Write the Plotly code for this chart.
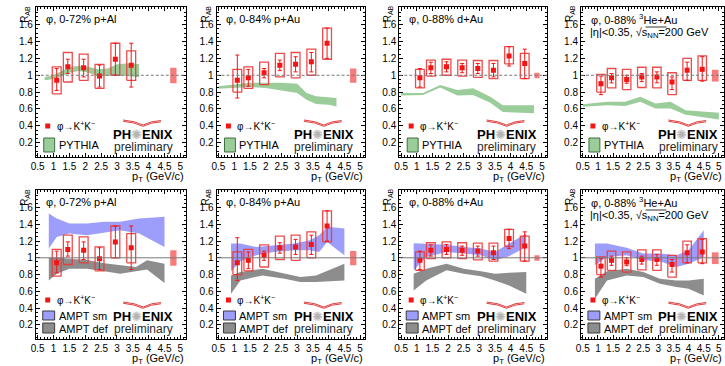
import plotly.graph_objects as go

# ---------------- data ----------------
pt = [1.1, 1.45, 1.95, 2.45, 2.95, 3.45, 3.95, 4.45]

pAl_y       = [0.94, 1.10, 1.09, 0.99, 1.19, 1.12]
pAl_stat_hi = [1.08, 1.19, 1.19, 1.12, 1.38, 1.38]
pAl_stat_lo = [0.82, 1.02, 0.98, 0.86, 1.00, 0.86]
pAl_sys_hi  = [1.10, 1.27, 1.25, 1.13, 1.38, 1.29]
pAl_sys_lo  = [0.78, 0.92, 0.94, 0.845, 1.00, 0.94]

pAu_y       = [0.94, 0.97, 1.03, 1.12, 1.13, 1.16, 1.38]
pAu_stat_hi = [1.24, 1.07, 1.08, 1.18, 1.22, 1.27, 1.56]
pAu_stat_lo = [0.73, 0.87, 0.97, 1.055, 1.04, 1.04, 1.20]
pAu_sys_hi  = [1.07, 1.10, 1.155, 1.26, 1.27, 1.31, 1.56]
pAu_sys_lo  = [0.80, 0.845, 0.89, 0.98, 0.97, 1.00, 1.19]

dAu_y       = [0.97, 1.09, 1.10, 1.09, 1.08, 1.06, 1.23, 1.14]
dAu_stat_hi = [1.08, 1.155, 1.16, 1.14, 1.14, 1.14, 1.34, 1.31]
dAu_stat_lo = [0.86, 1.02, 1.04, 1.03, 1.02, 0.98, 1.11, 0.96]
dAu_sys_hi  = [1.07, 1.18, 1.19, 1.18, 1.175, 1.175, 1.34, 1.26]
dAu_sys_lo  = [0.85, 0.99, 1.00, 0.99, 0.975, 0.96, 1.135, 0.96]

HeAu_y       = [0.90, 0.97, 0.95, 0.98, 0.98, 0.92, 1.06, 1.07]
HeAu_stat_hi = [0.99, 1.02, 1.00, 1.02, 1.04, 0.98, 1.155, 1.22]
HeAu_stat_lo = [0.77, 0.91, 0.905, 0.925, 0.91, 0.83, 0.94, 0.93]
HeAu_sys_hi  = [1.01, 1.08, 1.07, 1.095, 1.095, 1.03, 1.20, 1.23]
HeAu_sys_lo  = [0.80, 0.85, 0.83, 0.855, 0.85, 0.77, 0.94, 0.94]

# global normalisation boxes: x centre, half width, low, high
glob_pAl  = [4.78, 0.10, 0.905, 1.09]
glob_pAu  = [4.78, 0.10, 0.91, 1.08]
glob_dAu  = [4.84, 0.08, 0.965, 1.03]
glob_HeAu = [4.88, 0.11, 0.925, 1.065]

# PYTHIA bands
pyth_pAl_x  = [0.72, 0.9, 1.2, 1.5, 1.8, 2.1, 2.4, 2.7, 3.0, 3.3, 3.7]
pyth_pAl_hi = [0.98, 0.99, 1.04, 1.10, 1.11, 1.10, 1.07, 1.08, 1.13, 1.14, 1.135]
pyth_pAl_lo = [0.94, 0.95, 0.98, 1.03, 1.05, 1.03, 0.99, 0.99, 1.00, 0.99, 0.975]

pyth_pAu_x  = [0.5, 1.0, 1.5, 2.0, 2.5, 3.0, 3.3, 3.6, 4.0, 4.25]
pyth_pAu_hi = [0.87, 0.89, 0.91, 0.91, 0.91, 0.90, 0.79, 0.75, 0.74, 0.73]
pyth_pAu_lo = [0.84, 0.85, 0.86, 0.85, 0.82, 0.79, 0.71, 0.66, 0.65, 0.63]

pyth_dAu_x  = [0.5, 1.2, 1.75, 2.3, 2.8, 3.35, 3.75, 4.75]
pyth_dAu_hi = [0.79, 0.79, 0.885, 0.825, 0.845, 0.745, 0.645, 0.645]
pyth_dAu_lo = [0.76, 0.765, 0.855, 0.76, 0.765, 0.675, 0.565, 0.55]

pyth_HeAu_x  = [0.5, 1.3, 1.9, 2.4, 2.9, 3.4, 3.9, 5.0]
pyth_HeAu_hi = [0.655, 0.685, 0.685, 0.745, 0.665, 0.685, 0.585, 0.555]
pyth_HeAu_lo = [0.625, 0.645, 0.635, 0.685, 0.605, 0.605, 0.53, 0.475]

# AMPT string melting bands
sm_pAl_x  = [0.85, 1.1, 1.5, 2.05, 2.6, 3.1, 3.7, 4.5]
sm_pAl_hi = [1.53, 1.47, 1.41, 1.41, 1.43, 1.43, 1.47, 1.49]
sm_pAl_lo = [1.11, 1.25, 1.29, 1.27, 1.30, 1.33, 1.29, 1.13]

sm_pAu_x  = [0.9, 1.2, 1.7, 2.25, 2.9, 3.4, 3.7, 3.95, 4.5]
sm_pAu_hi = [1.17, 1.17, 1.13, 1.15, 1.17, 1.21, 1.27, 1.37, 1.35]
sm_pAu_lo = [0.84, 0.96, 1.03, 1.07, 1.09, 1.09, 1.07, 1.19, 1.03]

sm_dAu_x  = [0.9, 1.3, 1.95, 2.5, 3.05, 3.5, 3.95, 4.5]
sm_dAu_hi = [1.175, 1.17, 1.155, 1.13, 1.11, 1.07, 1.17, 1.29]
sm_dAu_lo = [0.85, 1.01, 1.07, 1.05, 1.03, 0.97, 1.02, 1.13]

sm_HeAu_x  = [0.9, 1.3, 1.95, 2.5, 3.05, 3.6, 4.0, 4.5]
sm_HeAu_hi = [1.17, 1.17, 1.12, 1.05, 1.05, 1.03, 1.09, 1.33]
sm_HeAu_lo = [0.91, 1.01, 1.03, 0.97, 0.96, 0.89, 0.93, 1.01]

# AMPT default bands
def_pAl_x  = [0.85, 1.1, 1.5, 2.05, 2.6, 3.1, 3.6, 3.95, 4.5]
def_pAl_hi = [1.00, 1.00, 0.99, 0.975, 0.935, 0.91, 0.89, 0.97, 0.93]
def_pAl_lo = [0.73, 0.81, 0.87, 0.87, 0.84, 0.81, 0.84, 0.86, 0.70]

def_pAu_x  = [0.9, 1.2, 1.9, 2.6, 3.1, 3.6, 4.5]
def_pAu_hi = [0.79, 0.83, 0.87, 0.81, 0.77, 0.79, 0.93]
def_pAu_lo = [0.57, 0.73, 0.79, 0.75, 0.71, 0.71, 0.73]

def_dAu_x  = [0.9, 1.3, 1.95, 2.5, 3.05, 3.5, 3.95, 4.5]
def_dAu_hi = [0.81, 0.87, 0.93, 0.87, 0.84, 0.81, 0.82, 0.83]
def_dAu_lo = [0.61, 0.73, 0.85, 0.81, 0.78, 0.73, 0.67, 0.57]

def_HeAu_x  = [0.9, 1.3, 1.95, 2.5, 3.05, 3.6, 4.0, 4.5]
def_HeAu_hi = [0.75, 0.84, 0.87, 0.83, 0.75, 0.73, 0.73, 0.75]
def_HeAu_lo = [0.51, 0.73, 0.79, 0.77, 0.69, 0.65, 0.63, 0.55]

x_tickvals = [0.5, 1, 1.5, 2, 2.5, 3, 3.5, 4, 4.5, 5]
x_ticktext = ["0.5", "1", "1.5", "2", "2.5", "3", "3.5", "4", "4.5", "5"]
y_tickvals = [0.2, 0.4, 0.6, 0.8, 1.0, 1.2, 1.4, 1.6]
y_ticktext = ["0.2", "0.4", "0.6", "0.8", "1", "1.2", "1.4", "1.6"]

titles = ["φ, 0-72% p+Al", "φ, 0-84% p+Au", "φ, 0-88% d+Au", "φ, 0-88% <sup>3</sup>He+Au"]

systems = [
    (pAl_y, pAl_stat_hi, pAl_stat_lo, pAl_sys_hi, pAl_sys_lo, glob_pAl),
    (pAu_y, pAu_stat_hi, pAu_stat_lo, pAu_sys_hi, pAu_sys_lo, glob_pAu),
    (dAu_y, dAu_stat_hi, dAu_stat_lo, dAu_sys_hi, dAu_sys_lo, glob_dAu),
    (HeAu_y, HeAu_stat_hi, HeAu_stat_lo, HeAu_sys_hi, HeAu_sys_lo, glob_HeAu),
]
pythia = [(pyth_pAl_x, pyth_pAl_hi, pyth_pAl_lo), (pyth_pAu_x, pyth_pAu_hi, pyth_pAu_lo),
          (pyth_dAu_x, pyth_dAu_hi, pyth_dAu_lo), (pyth_HeAu_x, pyth_HeAu_hi, pyth_HeAu_lo)]
ampt_sm = [(sm_pAl_x, sm_pAl_hi, sm_pAl_lo), (sm_pAu_x, sm_pAu_hi, sm_pAu_lo),
           (sm_dAu_x, sm_dAu_hi, sm_dAu_lo), (sm_HeAu_x, sm_HeAu_hi, sm_HeAu_lo)]
ampt_def = [(def_pAl_x, def_pAl_hi, def_pAl_lo), (def_pAu_x, def_pAu_hi, def_pAu_lo),
            (def_dAu_x, def_dAu_hi, def_dAu_lo), (def_HeAu_x, def_HeAu_hi, def_HeAu_lo)]

# ---------------- styling ----------------
W, H = 725, 366
FONT = "Liberation Sans, Arial, Helvetica, sans-serif"
RED = "rgb(245,20,20)"
BOXRED = "rgba(235,55,55,0.9)"
GLOBRED = "rgba(245,110,110,0.9)"
GREEN = "rgb(155,205,155)"
GREEN_EDGE = "rgb(60,110,60)"
BLUE = "rgba(140,140,250,0.85)"
GRAY = "rgba(135,135,135,0.95)"
HALF_W = 0.14

cols = [(31, 182), (213, 363), (397, 546), (580, 724)]
rows = [(7, 157), (190, 339)]
XR = [0.44, 5.17]
YR = [0.03, 1.81]


def X(px):
    return px / W


def Y(py):
    return 1 - py / H


fig = go.Figure()
shapes = []
annotations = []
layout_axes = {}


def band(xv, hi, lo, color, xa, ya):
    fig.add_trace(go.Scatter(x=list(xv) + list(xv)[::-1], y=list(hi) + list(lo)[::-1],
                             fill="toself", fillcolor=color, mode="lines",
                             line=dict(width=0), hoverinfo="skip", showlegend=False,
                             xaxis=xa, yaxis=ya))


def note(text, px, py, size=11, anchor="left", color="black", angle=0):
    annotations.append(dict(text=text, x=X(px), y=Y(py), xref="paper", yref="paper",
                            xanchor=anchor, yanchor="middle", showarrow=False, textangle=angle,
                            font=dict(size=size, family=FONT, color=color)))


for k in range(8):
    r, c = divmod(k, 4)
    n = k + 1
    xa = "x" if n == 1 else f"x{n}"
    ya = "y" if n == 1 else f"y{n}"
    l, rt = cols[c]
    t, b = rows[r]
    yv, shi, slo, yhi, ylo, glob = systems[c]
    xv = pt[:len(yv)]

    # model bands
    if r == 0:
        band(*pythia[c], GREEN, xa, ya)
    else:
        band(*ampt_sm[c], BLUE, xa, ya)
        band(*ampt_def[c], GRAY, xa, ya)

    # reference line at 1
    shapes.append(dict(type="line", xref=f"{xa} domain", yref=ya, x0=0, x1=1, y0=1, y1=1,
                       line=dict(color="rgb(120,120,120)", width=1,
                                 dash="3px,2px" if r == 0 else "solid")))

    # global normalisation box
    gx, gw, glo, ghi = glob
    fig.add_trace(go.Scatter(x=[gx - gw, gx + gw, gx + gw, gx - gw], y=[glo, glo, ghi, ghi],
                             fill="toself", fillcolor=GLOBRED, mode="lines", line=dict(width=0),
                             hoverinfo="skip", showlegend=False, xaxis=xa, yaxis=ya))

    # systematic boxes
    bx, by = [], []
    for xi, lo_, hi_ in zip(xv, ylo, yhi):
        bx += [xi - HALF_W, xi + HALF_W, xi + HALF_W, xi - HALF_W, xi - HALF_W, None]
        by += [lo_, lo_, hi_, hi_, lo_, None]
    fig.add_trace(go.Scatter(x=bx, y=by, mode="lines", line=dict(color=BOXRED, width=1.3),
                             hoverinfo="skip", showlegend=False, xaxis=xa, yaxis=ya))

    # points with stat errors
    fig.add_trace(go.Scatter(x=xv, y=yv, mode="markers",
                             marker=dict(symbol="square", size=5, color=RED),
                             error_y=dict(type="data", symmetric=False,
                                          array=[h - v for h, v in zip(shi, yv)],
                                          arrayminus=[v - lo_ for v, lo_ in zip(yv, slo)],
                                          color=RED, thickness=1, width=2),
                             showlegend=False, xaxis=xa, yaxis=ya))

    axis_common = dict(showline=True, linecolor="black", linewidth=1, mirror="allticks",
                       ticks="inside", ticklen=4, tickcolor="black", showgrid=False,
                       zeroline=False, tickfont=dict(size=10, color="black", family=FONT))
    layout_axes["xaxis" if n == 1 else f"xaxis{n}"] = dict(
        domain=[X(l), X(rt)], range=XR, anchor=ya, tickvals=x_tickvals, ticktext=x_ticktext,
        minor=dict(ticks="inside", ticklen=2, dtick=0.1, tick0=0, tickcolor="black"),
        **axis_common)
    layout_axes["yaxis" if n == 1 else f"yaxis{n}"] = dict(
        domain=[Y(b), Y(t)], range=YR, anchor=xa, tickvals=y_tickvals, ticktext=y_ticktext,
        minor=dict(ticks="inside", ticklen=2, dtick=0.05, tick0=0, tickcolor="black"),
        **axis_common)

    # axis titles
    note("R<sub>AB</sub>", l - 11, t + 7, size=10, anchor="center", angle=-90)
    note("p<sub>T</sub> (GeV/c)", rt, b + 20, anchor="right")
    # panel title
    note(titles[c], l + 8, t + 12)
    if c == 3:
        note("|η|<0.35, √s<sub>NN</sub>=200 GeV", l + 7, t + 26)
        shapes.append(dict(type="line", xref="paper", yref="paper", x0=X(l + 65), x1=X(l + 86),
                           y0=Y(t + 20), y1=Y(t + 20), line=dict(color="black", width=0.8)))

    # legend
    phi_y = b - 31 if r == 0 else b - 39
    shapes.append(dict(type="rect", xref="paper", yref="paper", x0=X(l + 9.5), x1=X(l + 14.5),
                       y0=Y(phi_y + 2.5), y1=Y(phi_y - 2.5), fillcolor=RED, line=dict(width=0)))
    note("φ→K<sup>+</sup>K<sup>−</sup>", l + 19, phi_y, size=10)
    if r == 0:
        shapes.append(dict(type="rect", xref="paper", yref="paper", x0=X(l + 8), x1=X(l + 19),
                           y0=Y(b - 5), y1=Y(b - 19), fillcolor=GREEN,
                           line=dict(color=GREEN_EDGE, width=1)))
        note("PYTHIA", l + 21, b - 12)
    else:
        shapes.append(dict(type="rect", xref="paper", yref="paper", x0=X(l + 7), x1=X(l + 19),
                           y0=Y(b - 19), y1=Y(b - 28), fillcolor=BLUE,
                           line=dict(color="rgb(60,60,60)", width=1)))
        shapes.append(dict(type="rect", xref="paper", yref="paper", x0=X(l + 7), x1=X(l + 19),
                           y0=Y(b - 6), y1=Y(b - 16), fillcolor=GRAY,
                           line=dict(color="rgb(60,60,60)", width=1)))
        note("AMPT sm", l + 21, b - 23)
        note("AMPT def", l + 21, b - 10)

    # PHENIX logo
    lx = l + 108
    note("<b>PH</b><span style='color:#b4b4b4'>✺</span><b>ENIX</b>", lx, b - 23, size=13,
         anchor="center")
    note("preliminary", lx, b - 10, size=12, anchor="center", color="rgb(40,40,40)")
    for dy in (0, 1.3):
        sy = b - 37 + dy
        path = (f"M {X(lx - 20)},{Y(sy)} Q {X(lx - 8)},{Y(sy + 1)} {X(lx)},{Y(sy + 5)} "
                f"Q {X(lx + 8)},{Y(sy + 1)} {X(lx + 18)},{Y(sy + 0.5)}")
        shapes.append(dict(type="path", xref="paper", yref="paper", path=path,
                           line=dict(color="rgb(220,40,40)", width=0.9)))

fig.update_layout(width=W, height=H, margin=dict(l=0, r=0, t=0, b=0),
                  paper_bgcolor="white", plot_bgcolor="white", showlegend=False,
                  shapes=shapes, annotations=annotations,
                  font=dict(family=FONT, size=11, color="black"), **layout_axes)

fig.write_html("out.html")
